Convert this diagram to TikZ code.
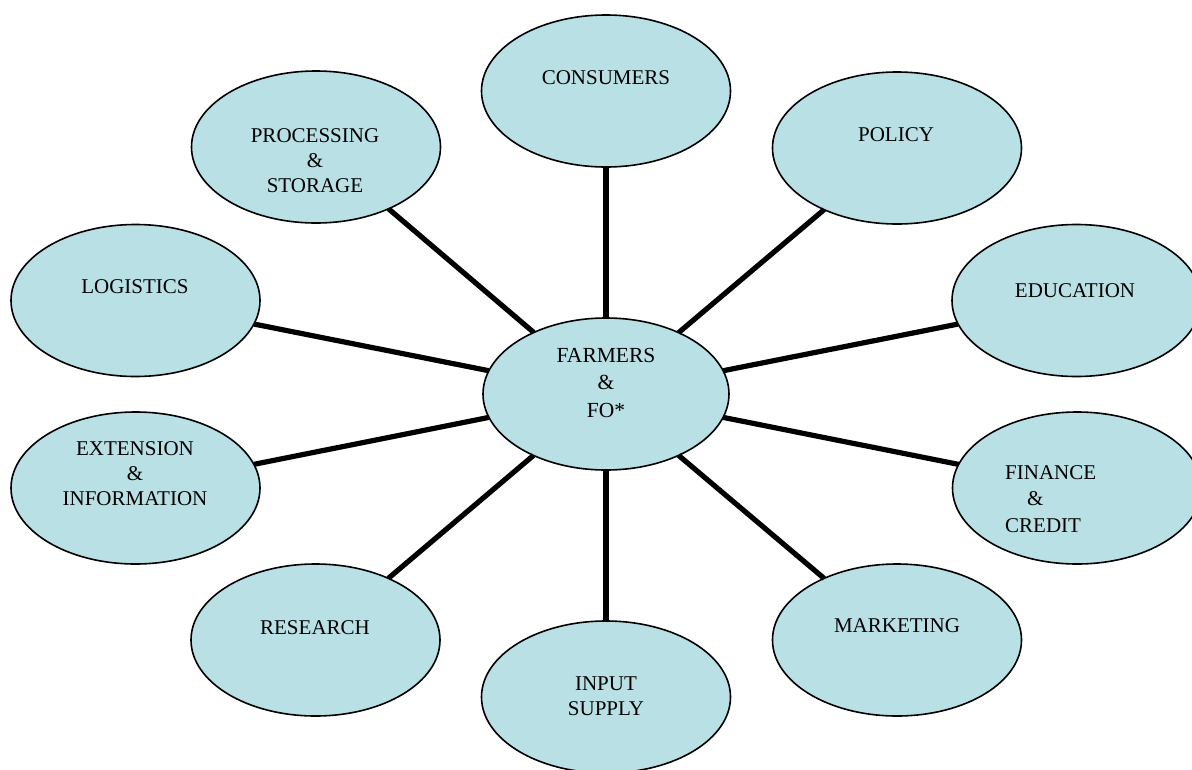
\documentclass[tikz,border=0pt]{standalone}
\usepackage{fontspec}
\setmainfont{Liberation Serif}
\usetikzlibrary{shapes.geometric}
\definecolor{bubblefill}{RGB}{185,224,228}
\tikzset{
  bubble/.style={ellipse, draw=black, line width=1.6pt, fill=bubblefill,
    minimum width=249pt, minimum height=152pt, inner sep=0pt, outer sep=0pt},
  spoke/.style={line width=5.2pt, draw=black},
  lbl/.style={font=\fontsize{21}{25}\selectfont, inner sep=0pt, align=center, anchor=base},
  clbl/.style={font=\fontsize{21.5}{27.5}\selectfont, inner sep=0pt, align=center, anchor=base},
}
\begin{document}
\begin{tikzpicture}[x=1pt,y=-1pt]
\useasboundingbox (0,0) rectangle (1192,769);
% bubbles
\node[bubble, minimum width=246pt] (c) at (606,394) {};
\node[bubble] (cons) at (606,91) {};
\node[bubble] (pol)  at (897,148) {};
\node[bubble] (proc) at (316,147) {};
\node[bubble] (log)  at (135.5,300.5) {};
\node[bubble] (edu)  at (1076.5,300.5) {};
\node[bubble] (ext)  at (135.5,488) {};
\node[bubble] (fin)  at (1077,488) {};
\node[bubble] (res)  at (315.5,640) {};
\node[bubble] (inp)  at (606,697) {};
\node[bubble] (mkt)  at (897,640) {};
% spokes
\foreach \n in {cons,pol,proc,log,edu,ext,fin,res,inp,mkt}
  \draw[spoke] (c) -- (\n);
% labels (anchor = baseline of the last line)
\node[clbl] (tc) at (606,417) {FARMERS\\\&\\FO*};
\node[lbl] (tcons) at (606,84) {CONSUMERS};
\node[lbl] (tpol) at (896,141) {POLICY};
\node[lbl] (tproc) at (315,192) {PROCESSING\\\&\\STORAGE};
\node[lbl] (tlog) at (135,293) {LOGISTICS};
\node[lbl] (tedu) at (1075,297) {EDUCATION};
\node[lbl] (text) at (135,505) {EXTENSION\\\&\\INFORMATION};
\node[font=\fontsize{21}{26.5}\selectfont, inner sep=0pt, align=left, anchor=base west] (tfin) at (1005,532) {FINANCE\\\hspace*{22pt}\&\\CREDIT};
\node[lbl] (tres) at (315,634) {RESEARCH};
\node[lbl] (tinp) at (606,715) {INPUT\\SUPPLY};
\node[lbl] (tmkt) at (897,632) {MARKETING};
\end{tikzpicture}
\end{document}
